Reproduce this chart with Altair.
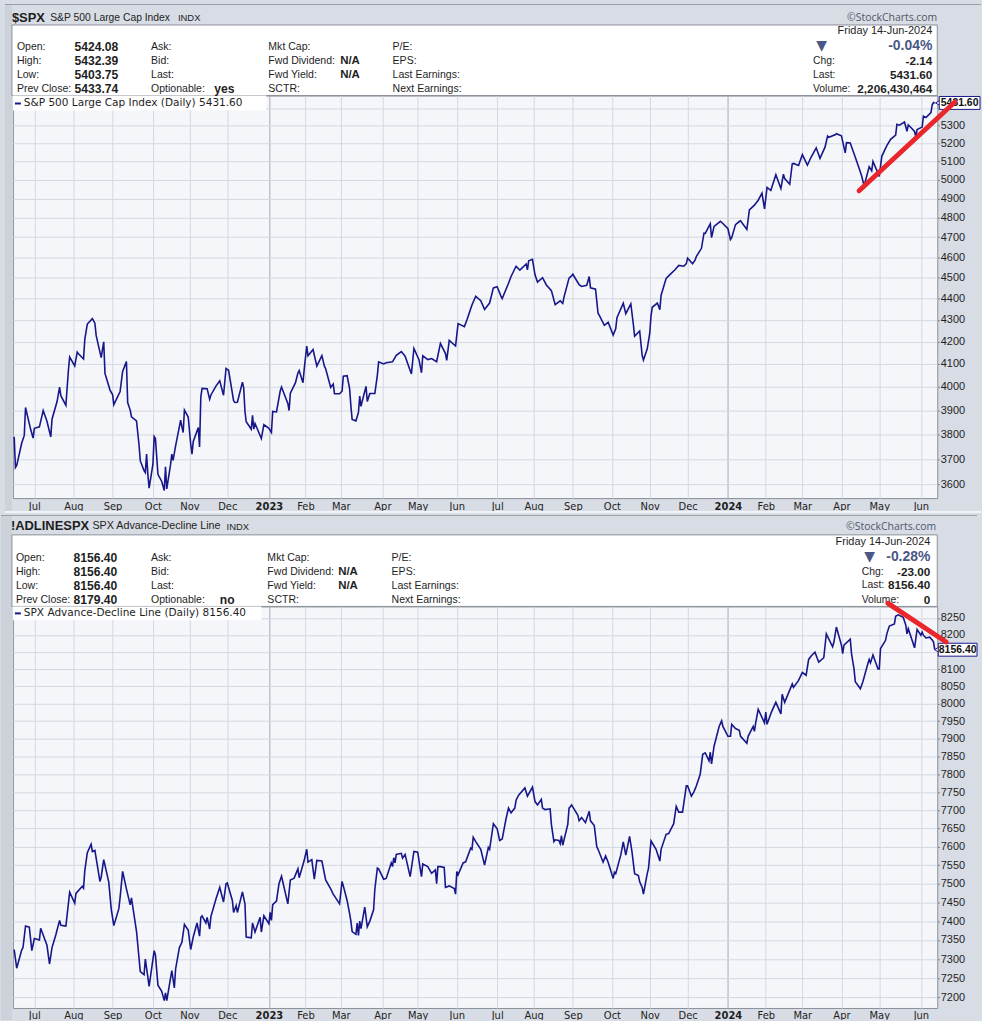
import altair as alt
import pandas as pd

# ---------------- data ----------------
# $SPX closes (2022 / 2023 / 2024), dates as MM-DD
spx_md_2022 = ["06-15","06-16","06-17","06-21","06-23","06-24","06-28","06-30",
 "07-01","07-05","07-08","07-11","07-14","07-15","07-19","07-21","07-22","07-26","07-28","07-29",
 "08-02","08-04","08-05","08-09","08-10","08-12","08-16","08-18","08-19","08-23","08-25","08-26","08-30",
 "09-01","09-02","09-07","09-09","09-12","09-13","09-15","09-16","09-20","09-22","09-23","09-26","09-27","09-28","09-29","09-30",
 "10-03","10-04","10-05","10-07","10-10","10-12","10-13","10-14","10-17","10-18","10-19","10-21","10-25","10-26","10-27","10-28","10-31",
 "11-02","11-03","11-04","11-08","11-09","11-10","11-11","11-15","11-17","11-18","11-22","11-25","11-28","11-30",
 "12-01","12-02","12-06","12-07","12-09","12-13","12-14","12-15","12-16","12-20","12-21","12-22","12-23","12-28","12-30"]
spx_v_2022 = [3790,3667,3675,3765,3796,3912,3822,3785,
 3825,3831,3899,3854,3790,3863,3937,3999,3962,3921,4072,4130,
 4091,4152,4145,4122,4210,4280,4305,4284,4228,4128,4199,4058,3986,
 3967,3924,3980,4067,4110,3933,3901,3873,3856,3758,3693,3655,3647,3720,3640,3586,
 3679,3791,3783,3640,3612,3577,3670,3583,3678,3720,3695,3753,3859,3831,3808,3901,3872,
 3760,3720,3771,3828,3749,3956,3993,3992,3947,3965,4003,4026,3964,4080,
 4076,4072,3941,3933,3934,4020,3996,3896,3852,3821,3879,3822,3845,3783,3840]
spx_md_2023 = ["01-03","01-05","01-06","01-09","01-12","01-13","01-18","01-19","01-20","01-24","01-26","01-27","01-30","01-31",
 "02-02","02-03","02-07","02-10","02-14","02-16","02-17","02-21","02-23","02-24","02-28",
 "03-02","03-03","03-06","03-08","03-09","03-10","03-13","03-15","03-16","03-17","03-21","03-22","03-24","03-28","03-30","03-31",
 "04-04","04-06","04-11","04-14","04-18","04-21","04-25","04-26","04-28",
 "05-02","05-04","05-05","05-09","05-12","05-16","05-19","05-23","05-24","05-26","05-31",
 "06-02","06-07","06-09","06-13","06-16","06-20","06-23","06-27","06-30",
 "07-03","07-06","07-07","07-12","07-14","07-18","07-21","07-26","07-27","07-28","07-31",
 "08-02","08-04","08-08","08-11","08-15","08-18","08-22","08-24","08-25","08-29","08-31",
 "09-01","09-06","09-08","09-12","09-14","09-15","09-19","09-21","09-22","09-26","09-29",
 "10-03","10-05","10-06","10-11","10-13","10-17","10-19","10-20","10-24","10-26","10-27","10-30",
 "11-01","11-02","11-03","11-07","11-09","11-10","11-14","11-17","11-21","11-24","11-28","11-30",
 "12-01","12-05","12-07","12-08","12-12","12-14","12-15","12-19","12-20","12-22","12-27","12-29"]
spx_v_2023 = [3825,3808,3895,3893,3983,3999,3929,3899,3973,4017,4060,4071,4018,4077,
 4180,4136,4164,4090,4137,4090,4079,3997,4012,3970,3970,
 3981,4046,4048,3992,3918,3862,3856,3891,3960,3917,4002,3937,3971,3971,4051,4109,
 4100,4105,4109,4138,4155,4134,4071,4056,4169,
 4119,4061,4136,4119,4124,4110,4192,4146,4116,4205,4180,
 4282,4268,4299,4369,4410,4389,4348,4378,4450,
 4456,4411,4399,4472,4505,4555,4536,4566,4537,4582,4589,
 4513,4478,4499,4464,4437,4370,4388,4376,4406,4497,4508,
 4516,4465,4457,4462,4505,4450,4444,4330,4320,4274,4288,
 4229,4258,4309,4377,4328,4374,4278,4224,4248,4137,4117,4167,
 4238,4318,4358,4378,4347,4415,4496,4514,4538,4559,4555,4568,
 4595,4567,4586,4604,4644,4720,4719,4768,4698,4755,4781,4770]
spx_md_2024 = ["01-02","01-04","01-05","01-08","01-11","01-12","01-17","01-19","01-23","01-26","01-29","01-31",
 "02-02","02-05","02-09","02-13","02-15","02-16","02-20","02-22","02-23","02-27",
 "03-01","03-05","03-08","03-12","03-15","03-19","03-21","03-22","03-27","03-28",
 "04-01","04-04","04-05","04-08","04-10","04-12","04-15","04-17","04-19","04-23","04-25","04-26","04-30",
 "05-01","05-03","05-07","05-10","05-14","05-15","05-17","05-21","05-23","05-24","05-29","05-30","05-31",
 "06-04","06-05","06-07","06-11","06-12","06-13","06-14"]
spx_v_2024 = [4743,4688,4697,4764,4780,4784,4739,4840,4865,4891,4928,4846,
 4959,4943,5027,4953,5030,5006,4976,5087,5089,5078,
 5137,5079,5124,5175,5117,5179,5241,5234,5248,5254,
 5243,5147,5204,5202,5161,5123,5062,5022,4967,5071,5048,5100,5036,
 5018,5128,5187,5223,5247,5308,5303,5321,5268,5305,5267,5236,5278,
 5292,5354,5347,5375,5421,5434,5431.6]

# !ADLINESPX values
ad_md_2022 = ["06-15","06-17","06-21","06-22","06-24","06-27","06-29",
 "07-01","07-05","07-06","07-11","07-13","07-15","07-18","07-21","07-22","07-26","07-29",
 "08-02","08-03","08-08","08-09","08-10","08-12","08-15","08-16","08-18","08-22","08-23","08-25","08-29","08-31",
 "09-02","09-06","09-07","09-09","09-12","09-15","09-16","09-20","09-23","09-26","09-27","09-30",
 "10-04","10-05","10-07","10-10","10-12","10-13","10-14","10-18","10-20","10-21","10-24","10-26","10-28","10-31",
 "11-02","11-04","11-07","11-09","11-10","11-11","11-14","11-15","11-17","11-18","11-22","11-25","11-28","11-30",
 "12-01","12-05","12-06","12-08","12-09","12-13","12-15","12-16","12-20","12-21","12-23","12-27","12-28","12-30"]
ad_v_2022 = [7325,7276,7324,7330,7387,7384,7322,
 7354,7350,7381,7336,7287,7330,7363,7402,7389,7387,7477,
 7448,7474,7493,7488,7535,7584,7607,7587,7590,7506,7518,7565,7504,7431,
 7388,7433,7463,7533,7486,7443,7462,7373,7267,7259,7300,7229,
 7322,7311,7232,7216,7192,7212,7192,7270,7225,7274,7330,7344,7391,7376,
 7325,7358,7395,7360,7410,7414,7395,7410,7379,7412,7459,7490,7451,7500,
 7502,7455,7423,7441,7423,7478,7446,7358,7356,7395,7371,7410,7371,7414]
ad_md_2023 = ["01-03","01-04","01-05","01-06","01-09","01-11","01-13","01-18","01-20","01-23","01-26","01-27","01-31",
 "02-02","02-03","02-06","02-08","02-10","02-14","02-17","02-21","02-23","02-28",
 "03-02","03-03","03-06","03-08","03-09","03-10","03-13","03-14","03-15","03-16","03-17","03-20","03-22","03-24","03-27","03-28","03-30","03-31",
 "04-04","04-06","04-10","04-11","04-12","04-13","04-14","04-18","04-19","04-21","04-25","04-28",
 "05-01","05-03","05-04","05-05","05-09","05-10","05-12","05-15","05-16","05-17","05-19","05-22","05-23","05-26","05-30","05-31",
 "06-01","06-02","06-06","06-08","06-12","06-13","06-14","06-16","06-20","06-23","06-26","06-27","06-30",
 "07-03","07-05","07-07","07-10","07-12","07-14","07-17","07-18","07-20","07-25","07-27","07-31",
 "08-02","08-04","08-07","08-08","08-10","08-14","08-15","08-17","08-18","08-21","08-22","08-23","08-24","08-28","08-29","08-30","08-31",
 "09-05","09-06","09-08","09-11","09-14","09-15","09-18","09-20","09-21","09-25","09-27","09-29",
 "10-03","10-04","10-05","10-09","10-11","10-13","10-16","10-18","10-20","10-23","10-24","10-26","10-27","10-30","10-31",
 "11-02","11-06","11-09","11-10","11-14","11-16","11-20","11-22","11-24","11-27","11-30",
 "12-01","12-04","12-06","12-08","12-11","12-13","12-15","12-18","12-19","12-20","12-22","12-26","12-28","12-29"]
ad_v_2023 = [7393,7423,7402,7444,7453,7500,7520,7446,7510,7515,7540,7516,7563,
 7593,7558,7565,7512,7563,7561,7510,7486,7472,7446,
 7506,7494,7455,7420,7400,7372,7365,7395,7362,7400,7380,7437,7385,7400,7430,7485,7542,7540,
 7512,7514,7556,7546,7570,7556,7579,7582,7569,7579,7519,7587,
 7585,7540,7519,7553,7546,7540,7528,7537,7500,7546,7546,7544,7490,7494,7487,7472,
 7533,7524,7556,7559,7596,7593,7626,7614,7593,7550,7598,7593,7663,
 7649,7617,7621,7676,7706,7693,7706,7728,7742,7762,7739,7764,
 7724,7715,7730,7706,7702,7704,7661,7614,7619,7617,7608,7630,7604,7661,7706,7710,7715,
 7686,7671,7680,7666,7697,7671,7658,7600,7593,7558,7575,7558,
 7514,7531,7527,7577,7613,7577,7628,7584,7527,7522,7505,7490,7472,7527,7541,
 7616,7593,7561,7593,7634,7636,7663,7711,7695,7695,7768,
 7768,7739,7751,7768,7800,7856,7860,7838,7862,7829,7879,7935,7951,7935]
ad_md_2024 = ["01-02","01-04","01-05","01-08","01-11","01-12","01-17","01-18","01-22","01-23","01-24","01-26","01-31",
 "02-01","02-02","02-05","02-06","02-09","02-13","02-14","02-16","02-22","02-23","02-27",
 "03-01","03-04","03-06","03-08","03-11","03-14","03-18","03-20","03-25","03-26","03-28",
 "04-01","04-02","04-03","04-08","04-09","04-11","04-12","04-16","04-18","04-22","04-23","04-24","04-26","04-30",
 "05-01","05-02","05-06","05-07","05-09","05-13","05-14","05-16","05-20","05-22","05-23","05-24","05-29","05-31",
 "06-03","06-04","06-05","06-07","06-10","06-12","06-13","06-14"]
ad_v_2024 = [7907,7907,7941,7929,7924,7907,7887,7907,7935,7921,7945,7984,7945,
 7976,7941,7971,7980,8004,7971,8027,8004,8057,8047,8067,
 8090,8082,8128,8138,8149,8120,8133,8203,8165,8178,8223,
 8170,8145,8170,8187,8145,8100,8063,8043,8063,8116,8128,8118,8141,8100,
 8100,8160,8184,8203,8226,8232,8255,8259,8252,8229,8203,8218,8162,8216,
 8199,8208,8199,8191,8193,8185,8179.4,8156.4]

# axis ticks
month_ticks = ["2022-07-01","2022-08-01","2022-09-01","2022-10-03","2022-11-01","2022-12-01",
               "2023-01-03","2023-02-01","2023-03-01","2023-04-03","2023-05-01","2023-06-01",
               "2023-07-03","2023-08-01","2023-09-01","2023-10-02","2023-11-01","2023-12-01",
               "2024-01-02","2024-02-01","2024-03-01","2024-04-01","2024-05-01","2024-06-03"]
spx_ticks = [3600,3700,3800,3900,4000,4100,4200,4300,4400,4500,4600,4700,4800,4900,5000,5100,5200,5300,5400]
ad_ticks = [7200,7250,7300,7350,7400,7450,7500,7550,7600,7650,7700,7750,7800,7850,7900,7950,8000,
            8050,8100,8150,8200,8250]
# tick labels hidden behind the last-value tag
spx_hidden_tick = 5400
ad_hidden_tick = 8150

# trend lines drawn on the chart
spx_trend_dates = ["2024-04-15", "2024-06-30"]
spx_trend_vals = [4941, 5437]
ad_trend_dates = ["2024-05-08", "2024-06-23"]
ad_trend_vals = [8293, 8179]


def build(pairs):
    dates, vals = [], []
    for year, md, v in pairs:
        assert len(md) == len(v), (year, len(md), len(v))
        dates += [f"{year}-{d}" for d in md]
        vals += v
    return pd.DataFrame({"date": dates, "value": vals})


spx_df = build([(2022, spx_md_2022, spx_v_2022), (2023, spx_md_2023, spx_v_2023), (2024, spx_md_2024, spx_v_2024)])
ad_df = build([(2022, ad_md_2022, ad_v_2022), (2023, ad_md_2023, ad_v_2023), (2024, ad_md_2024, ad_v_2024)])

# ---------------- styles ----------------
NAVY = "#17178a"
RED = "#e8262c"
BG = "#d8dce4"
PLOT_BG = "#f4f6fa"
GRID = "#d4d8e0"
YEARGRID = "#a6aab2"
BORDER = "#8a8e96"
SLATE = "#485785"
TXT = "#1e1e1e"

dummy = pd.DataFrame({"k": [0]})


def dt(s):
    y, m, d = (int(p) for p in s.split("-"))
    return alt.DateTime(year=y, month=m, date=d, utc=True)


x_scale = alt.Scale(type="utc", domain=[dt("2022-06-14"), dt("2024-06-16")])
IS_JAN = "utcmonth(datum.value) == 0"
x_axis = alt.Axis(
    values=[dt(s) for s in month_ticks], title=None, ticks=False, domain=False,
    labelExpr=f"{IS_JAN} ? utcFormat(datum.value, '%Y') : utcFormat(datum.value, '%b')",
    labelFont="DejaVu Sans", labelFontSize=10, labelColor=TXT, labelPadding=3,
    labelFontWeight={"condition": {"test": IS_JAN, "value": "bold"}, "value": "normal"},
    grid=True, gridColor={"condition": {"test": IS_JAN, "value": YEARGRID}, "value": GRID},
    gridWidth=1, labelFlush=False, labelOverlap=False)


def y_axis(ticks, hidden):
    return alt.Axis(orient="right", values=ticks, title=None, format="d",
                    labelExpr=f"datum.value == {hidden} ? '' : datum.label",
                    labelFont="Liberation Sans", labelFontSize=11, labelColor=TXT,
                    tickSize=2, tickColor="#777777", labelPadding=1, domain=False,
                    grid=True, gridColor=GRID, gridWidth=1, labelOverlap=False, labelFlush=False)


def txt(s, x, y, size=10.6, weight="normal", align="left", color=TXT, font="Liberation Sans"):
    return alt.Chart(dummy).mark_text(text=s, align=align, baseline="middle", fontSize=size,
                                      fontWeight=weight, color=color, font=font).encode(
        x=alt.value(x), y=alt.value(y))


def box(x1, x2, y1, y2, fill, stroke=None, sw=1.0):
    props = {"fill": fill}
    if stroke is not None:
        props["stroke"] = stroke
        props["strokeWidth"] = sw
    return alt.Chart(dummy).mark_rect(**props).encode(
        x=alt.value(x1), x2=alt.value(x2), y=alt.value(y1), y2=alt.value(y2))


def series(df, ys, yax):
    return alt.Chart(df).mark_line(color=NAVY, strokeWidth=1.6).encode(
        x=alt.X("date:T", scale=x_scale, axis=x_axis),
        y=alt.Y("value:Q", scale=ys, axis=yax))


def trend(dates, vals, ys, yax):
    d = pd.DataFrame({"date": [dates[0]], "date2": [dates[1]], "value": [vals[0]], "value2": [vals[1]]})
    return alt.Chart(d).mark_rule(color=RED, strokeWidth=5, strokeCap="round").encode(
        x=alt.X("date:T", scale=x_scale, axis=x_axis), x2=alt.X2("date2"),
        y=alt.Y("value:Q", scale=ys, axis=yax), y2=alt.Y2("value2"))


def last_box(val, label, xl, xr, ys, yax):
    d = pd.DataFrame({"value": [val]})
    base = alt.Chart(d)
    yenc = alt.Y("value:Q", scale=ys, axis=yax)
    arrow = base.mark_point(shape="triangle-left", size=40, filled=True, fill="white",
                            stroke=NAVY, strokeWidth=1, opacity=1).encode(
        x=alt.value(xl - 1), y=yenc)
    rect = base.mark_rect(fill="white", stroke=NAVY, strokeWidth=1, yOffset=-6.5, y2Offset=6.5).encode(
        x=alt.value(xl), x2=alt.value(xr), y=yenc, y2=alt.Y2("value"))
    text = base.mark_text(text=label, fontWeight="bold", fontSize=10.5, font="Liberation Sans",
                          color="#111111", align="center", baseline="middle").encode(
        x=alt.value((xl + xr) / 2), y=yenc)
    return [arrow, rect, text]


def info_block(rows, c):
    L = []
    labels1 = ["Open:", "High:", "Low:", "Prev Close:"]
    labels2 = ["Ask:", "Bid:", "Last:", "Optionable:"]
    labels3 = ["Mkt Cap:", "Fwd Dividend:", "Fwd Yield:", "SCTR:"]
    labels4 = ["P/E:", "EPS:", "Last Earnings:", "Next Earnings:"]
    for i, ry in enumerate(rows):
        L.append(txt(labels1[i], c["l1"], ry))
        L.append(txt(c["vals"][i], c["v1"], ry, 12.2, "bold"))
        L.append(txt(labels2[i], c["l2"], ry))
        L.append(txt(labels3[i], c["l3"], ry))
        L.append(txt(labels4[i], c["l4"], ry))
    L.append(txt(c["opt"], c["optr"], rows[3], 12.2, "bold", "right"))
    L.append(txt("N/A", c["nar"], rows[1], 11.5, "bold", "right"))
    L.append(txt("N/A", c["nar"], rows[2], 11.5, "bold", "right"))
    return L


def right_block(r, lx, tx, rows, pct, chg, last, vol):
    return [
        txt("Friday  14-Jun-2024", r, rows[0], 11, align="right"),
        txt("\u25BC", tx, rows[1], 14, color=SLATE, font="DejaVu Sans", align="center"),
        txt(pct, r, rows[1], 14, "bold", "right", SLATE),
        txt("Chg:", lx, rows[2], 10.4), txt(chg, r, rows[2], 11.8, "bold", "right"),
        txt("Last:", lx, rows[3], 10.4), txt(last, r, rows[3], 11.8, "bold", "right"),
        txt("Volume:", lx, rows[4], 10.4), txt(vol, r, rows[4], 11.8, "bold", "right"),
    ]


# ---------------- top panel ($SPX) ----------------
ys_top = alt.Scale(type="log", domain=[3548, 5475], nice=False)
yax_top = y_axis(spx_ticks, spx_hidden_tick)
top_layers = [
    box(-8, 974, -92, -91, "#9a9ea6"),
    box(-8, -1, -91, 418, "#cdd1d9"),
    box(-1, 930, -71, 0, "white", BORDER),
    box(0, 255, 0, 15, "white"),
    txt("$SPX", -1, -78.5, 13, "bold"),
    txt("S&P 500 Large Cap Index", 37.5, -78.5, 10.4),
    txt("INDX", 166, -78, 9.5),
    txt("\u00A9StockCharts.com", 930, -78.5, 10.5, align="right", color="#50566a", font="Open Sans"),
]
top_layers += info_block([-48.7, -34.7, -21, -6.3],
                         {"l1": 4, "v1": 62, "l2": 139, "l3": 257, "l4": 382, "optr": 223, "nar": 349,
                          "vals": ["5424.08", "5432.39", "5403.75", "5433.74"], "opt": "yes"})
top_layers += right_block(925, 805, 813.5, [-65.3, -50.3, -34.7, -21, -6.3],
                          "-0.04%", "-2.14", "5431.60", "2,206,430,464")
top_layers += [
    alt.Chart(dummy).mark_rule(color=NAVY, strokeWidth=2).encode(x=alt.value(2), x2=alt.value(8), y=alt.value(8)),
    txt("S&P 500 Large Cap Index (Daily) 5431.60", 11, 8, 10.6, font="DejaVu Sans"),
    series(spx_df, ys_top, yax_top),
]
top_layers += last_box(5431.6, "5431.60", 932, 973, ys_top, yax_top)
top_layers += [trend(spx_trend_dates, spx_trend_vals, ys_top, yax_top),
               box(-8, 974, 418, 420, "#f2f3f6")]
top = alt.layer(*top_layers).properties(width=930, height=405)

# ---------------- bottom panel (!ADLINESPX) ----------------
ys_bot = alt.Scale(type="log", domain=[7173, 8284], nice=False)
yax_bot = y_axis(ad_ticks, ad_hidden_tick)
bot_layers = [
    box(-12, 970, -92, -91, "#9a9ea6"),
    box(-12, -1, -91, 417, "#cdd1d9"),
    box(-1, 930, -72, 0, "white", BORDER),
    box(0, 250, 0, 14, "white"),
    txt("!ADLINESPX", -2, -80.5, 13, "bold"),
    txt("SPX Advance-Decline Line", 80, -80.5, 10.8),
    txt("INDX", 215, -80, 9.5),
    txt("\u00A9StockCharts.com", 929, -79.5, 10.5, align="right", color="#50566a", font="Open Sans"),
]
bot_layers += info_block([-49, -34.7, -20.7, -6.3],
                         {"l1": 3, "v1": 61, "l2": 139, "l3": 256, "l4": 381, "optr": 223, "nar": 347,
                          "vals": ["8156.40", "8156.40", "8156.40", "8179.40"], "opt": "no"})
bot_layers += right_block(923, 854, 862, [-64.7, -50, -35, -21.3, -6.7],
                          "-0.28%", "-23.00", "8156.40", "0")
bot_layers += [
    alt.Chart(dummy).mark_rule(color=NAVY, strokeWidth=2).encode(x=alt.value(2), x2=alt.value(8), y=alt.value(7)),
    txt("SPX Advance-Decline Line (Daily) 8156.40", 11, 7, 10.6, font="DejaVu Sans"),
    series(ad_df, ys_bot, yax_bot),
]
bot_layers += last_box(8156.4, "8156.40", 931, 970, ys_bot, yax_bot)
bot_layers += [trend(ad_trend_dates, ad_trend_vals, ys_bot, yax_bot),
               box(-12, 970, 416, 417, BG)]
bottom = alt.layer(*bot_layers).properties(width=930, height=404)

chart = alt.vconcat(top, bottom, spacing=0).properties(
    padding=0, background=BG
).configure_view(fill=PLOT_BG, stroke=BORDER, strokeWidth=1)

chart.save("out.html", embed_options={"renderer": "svg", "actions": False})
